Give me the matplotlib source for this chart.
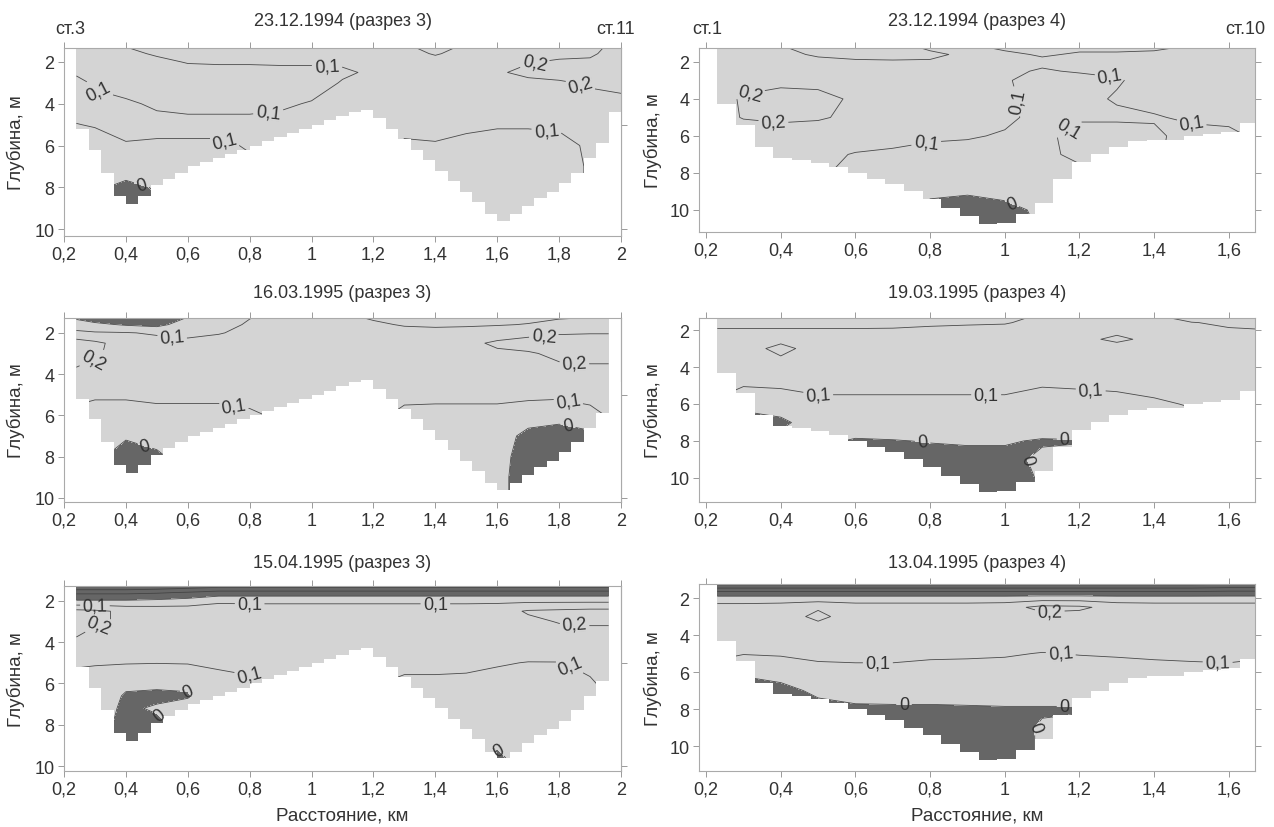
import numpy as np
import matplotlib.pyplot as plt
from matplotlib.ticker import MultipleLocator, FuncFormatter

plt.rcParams['font.family'] = ['Liberation Sans', 'DejaVu Sans']
plt.rcParams['contour.negative_linestyle'] = 'solid'

# distance nodes, km
x_r3 = [0.24, 0.3, 0.4, 0.5, 0.6, 0.7, 0.8, 0.9, 1.0, 1.1, 1.2, 1.3, 1.4, 1.5, 1.6, 1.7, 1.8, 1.9, 2.0]
x_r3b = [0.24, 0.3, 0.4, 0.5, 0.6, 0.7, 0.8, 0.9, 1.0, 1.1, 1.2, 1.3, 1.4, 1.5, 1.6, 1.7, 1.8, 1.9, 1.96]
x_r4 = [0.23, 0.3, 0.4, 0.5, 0.6, 0.7, 0.8, 0.9, 1.0, 1.1, 1.2, 1.3, 1.4, 1.5, 1.6, 1.67]
# depth nodes, m
z_r3 = [1.2, 1.6, 2, 2.5, 3, 4, 5, 6, 7, 8, 9, 10]
z_r3c = [1.2, 1.6, 2, 2.5, 3, 4, 5, 6, 6.6, 7.2, 8, 9, 10]
z_r4 = [1.2, 1.6, 2, 2.5, 3, 4, 5, 6, 7, 8, 9, 10, 11]

# bottom (left edges of steps, depth)
bot3_x = [0.24, 0.28, 0.32, 0.36, 0.40, 0.44, 0.48, 0.52, 0.56, 0.60, 0.64, 0.68, 0.72, 0.76,
          0.80, 0.84, 0.88, 0.92, 0.96, 1.00, 1.04, 1.08, 1.12, 1.16, 1.20, 1.24, 1.28, 1.32,
          1.36, 1.40, 1.44, 1.48, 1.52, 1.56, 1.60, 1.64, 1.68, 1.72, 1.76, 1.80, 1.84, 1.88,
          1.92, 1.96, 2.00]
bot3_z = [5.2, 6.2, 7.3, 8.4, 8.8, 8.4, 7.9, 7.6, 7.3, 7.0, 6.8, 6.6, 6.4, 6.2,
          6.0, 5.8, 5.6, 5.4, 5.2, 5.0, 4.8, 4.6, 4.4, 4.3, 4.7, 5.2, 5.7, 6.2,
          6.7, 7.2, 7.7, 8.2, 8.7, 9.3, 9.6, 9.3, 8.9, 8.5, 8.2, 7.8, 7.3, 6.6,
          5.9, 4.4]
bot4_x = [0.23, 0.28, 0.33, 0.38, 0.43, 0.48, 0.53, 0.58, 0.63, 0.68, 0.73, 0.78, 0.83, 0.88,
          0.93, 0.98, 1.03, 1.08, 1.13, 1.18, 1.23, 1.28, 1.33, 1.38, 1.43, 1.48, 1.53, 1.58,
          1.63, 1.67]
bot4_z = [4.3, 5.4, 6.6, 7.2, 7.3, 7.45, 7.7, 8.0, 8.3, 8.6, 9.0, 9.4, 9.9, 10.3,
          10.75, 10.7, 10.2, 9.6, 8.3, 7.4, 7.0, 6.6, 6.3, 6.2, 6.2, 6.0, 5.9, 5.8,
          5.3]

# values x100 (rows = depth nodes, columns = distance nodes)
v_231294_r3 = [
    [6, 7, 10.5, 13, 14, 14, 14, 14, 14, 14, 13, 10.5, 8, 10.5, 13, 15, 16, 18, 22],
    [6, 6, 8, 11, 12, 13, 13, 13, 13, 13, 13, 12, 9.5, 12, 15, 17, 18, 19, 23],
    [6, 6, 6, 8, 10.5, 11, 11, 11, 11, 11, 12, 13, 12, 14, 17, 19.5, 21, 21, 24],
    [8.5, 6, 6, 6, 7, 7, 7, 8, 8, 9, 11, 13, 13, 15, 19, 22, 23, 23, 24],
    [13, 8.5, 7, 6, 6, 6, 6, 6, 7, 10.5, 12, 14, 14, 15, 17, 18, 19, 21, 22],
    [13, 13, 11, 9, 8, 8, 8, 9, 10.5, 12, 13, 14, 14, 14, 15, 15, 15, 17, 18],
    [9.8, 10.5, 12, 12, 12, 12, 12, 12, 12, 12, 13, 12, 12, 11.5, 10.5, 10.5, 11, 12, 15],
    [7, 7, 9.5, 9, 9, 9, 10.5, 12, 12, 12, 13, 9, 9.5, 8, 8, 8, 8, 11, 13],
    [6, 6, 6, 7, 8, 8, 9, 12, 12, 12, 13, 8, 8, 7, 7, 7, 8, 10.5, 12],
    [5, 2, -3, 1, 7, 8, 9, 12, 12, 12, 13, 8, 8, 7, 7, 7, 8, 10.5, 12],
    [5, 1, -5, -2, 7, 8, 9, 12, 12, 12, 13, 8, 8, 7, 7, 7, 8, 10.5, 12],
    [5, 1, -5, -2, 7, 8, 9, 12, 12, 12, 13, 8, 8, 7, 7, 7, 8, 10.5, 12],
]
v_231294_r4 = [
    [13, 13, 10.5, 7, 7, 8, 11, 11, 9, 8, 9, 9, 9, 10.5, 12, 12],
    [13, 13, 12, 9, 8, 8.5, 9, 11, 11, 9.5, 10.5, 10.5, 11, 12, 13, 13],
    [13, 14, 14, 12, 11, 10.5, 10.5, 12, 12, 11, 12, 12, 12, 13, 14, 14],
    [14, 15, 16, 15, 14, 13, 13, 13, 11, 9.5, 10.5, 11, 13, 14, 14, 14],
    [15, 17, 18, 18, 17, 15, 15, 14, 10.5, 8, 8, 9.5, 12, 14, 14, 14],
    [17, 21, 23, 22, 19, 16, 15, 14, 11, 8, 8.5, 10.5, 12, 13, 13, 13],
    [17, 20.5, 22, 21, 18, 15, 14, 13, 11, 8.5, 9.5, 9, 9.5, 11, 11, 12],
    [16, 15, 15, 15, 14, 12, 11, 10.5, 9.5, 9, 11.5, 13, 11, 8, 9, 10.5],
    [12, 11, 12, 12, 9.5, 9, 8, 8, 7, 9, 11, 12, 11, 7, 8, 9],
    [8, 8, 10.5, 10.5, 9, 8, 6, 6, 5, 6, 9, 9.5, 10.5, 7, 8, 9],
    [5, 6, 8, 9, 8, 7, 2, 1, 3, 4, 6, 8, 8, 7, 8, 9],
    [3, 5, 6, 7, 6, 6, -3, -4, -3, 2, 4, 6, 7, 7, 8, 9],
    [3, 5, 6, 7, 6, 6, -5, -6, -5, 1, 2, 6, 7, 7, 8, 9],
]
v_160395_r3 = [
    [-3, -6, -8, -9, -0.5, 5, 9.5, 12, 12, 11, 9, 8, 7, 7, 8, 8, 9, 9.5, 10.5],
    [5, 2, -1, -3, 5, 7, 11, 13, 13, 13, 11, 9.5, 9, 9, 9.5, 10.3, 12, 13, 14],
    [12, 11, 10.5, 9, 8, 9.5, 12, 14, 14, 14, 13, 12, 12, 13, 14, 17, 19, 19.5, 19.5],
    [25, 22, 16, 13, 12, 13, 14, 15, 15, 15, 15, 14, 15, 17, 22, 24, 25, 25, 25],
    [22, 21, 17, 15, 14, 14, 14, 15, 15, 15, 15, 15, 15, 16, 18, 19, 22, 23, 23],
    [19, 17, 16, 16, 16, 16, 16, 16, 16, 16, 16, 16, 15, 15, 15, 16, 17, 17, 17],
    [12, 11, 11, 11.5, 11.5, 11.5, 12, 13, 14, 14, 14, 12, 12, 12, 12, 12, 12, 12, 13],
    [8, 7, 7, 8, 8, 8, 9, 11, 12, 12, 12, 8, 7.5, 7.5, 7.5, 5, 3, 8, 10.5],
    [6, 4, 1, 4, 6, 7, 9, 11, 12, 12, 12, 7, 7, 7, 5, -3, -4, -3, 5],
    [5, 2, -4, -2, 5, 7, 9, 11, 12, 12, 12, 6, 6, 6, 4, -5, -5, -5, 3],
    [5, 1, -5, -3, 5, 7, 9, 11, 12, 12, 12, 6, 6, 6, 3, -5, -5, -5, 3],
    [5, 1, -5, -3, 5, 7, 9, 11, 12, 12, 12, 6, 6, 6, 3, -5, -5, -5, 3],
]
v_190395_r4 = [
    [-2, -2, -1.5, -1, 1, 5, 7, 7, 8, 10.5, 11, 11, 10.5, 2, -1, -2],
    [6, 6, 6, 6, 6, 7, 8, 9, 9.5, 12, 12, 12, 11, 10.5, 8, 7],
    [11, 11, 11, 11, 11, 11, 12, 12, 12, 12, 12, 12, 12, 12, 11, 10.5],
    [12, 12, 12, 12, 12, 12, 12, 12, 12, 12, 12, 8.5, 12, 12, 12, 12],
    [13, 13, 8, 13, 13, 13, 13, 13, 13, 13, 13, 13, 13, 13, 13, 13],
    [13, 13, 13, 13, 13, 13, 13, 13, 13, 13, 13, 13, 13, 13, 13, 13],
    [12, 10.5, 11, 11.5, 11.5, 11.5, 11.5, 11.5, 12, 10.2, 10.5, 11, 12, 13, 13, 13],
    [9, 2, 5, 8.5, 8.5, 8.5, 8.5, 8.5, 8, 8, 8, 8, 9, 10.5, 11, 11],
    [7, -3, -2, 5, 6, 7, 7, 7, 7, 7, 7, 7, 8, 8, 9, 9],
    [6, 4, 3, 2, -1, -0.5, 0.5, 1, 1, -1, -0.5, 5, 8, 8, 9, 9],
    [6, 4, 3, 2, -3, -4, -4, -3, -3, 2, 3, 5, 8, 8, 9, 9],
    [6, 4, 3, 2, -3, -5, -5, -5, -4, 1, 3, 5, 8, 8, 9, 9],
    [6, 4, 3, 2, -3, -5, -5, -5, -4, 1, 3, 5, 8, 8, 9, 9],
]
v_150495_r3 = [
    [-35, -35, -35, -33, -30, -28, -28, -28, -28, -28, -28, -28, -28, -28, -28, -28, -28, -28, -28],
    [-12, -12, -12, -11, -9, -6, -6, -6, -6, -6, -6, -6, -6, -6, -6, -6, -6, -6, -6],
    [1, 1, 1, 2, 4, 8, 8, 8, 8, 8, 8, 8, 8, 8, 8, 8, 8, 8, 8],
    [23, 22, 18, 17, 16, 16, 15, 15, 15, 15, 15, 15, 15, 15, 16, 21, 22, 23, 23],
    [23, 21, 19, 17, 16, 16, 15, 15, 15, 15, 15, 15, 15, 15, 15, 18, 20.5, 21, 21],
    [19, 17, 16, 15, 15, 15, 15, 15, 15, 15, 15, 15, 15, 15, 14, 14, 15, 16, 16],
    [11, 10.5, 10.5, 10.2, 10.5, 11, 11.5, 12, 12, 12, 12, 12, 12, 11.5, 10.5, 9.8, 9.8, 11, 12],
    [7, 7, 2, 3, 2, 8, 9, 10.5, 11, 11, 10.5, 8.5, 8.5, 8.5, 8, 8, 8, 9.5, 11],
    [6.5, 6, -1, -3, -1, 7.5, 9, 10.5, 11, 11, 10.5, 8.5, 8.5, 8.5, 7.5, 7.5, 7.5, 9, 11],
    [6, 5, -2, 1.5, 4, 7, 9, 10.5, 11, 11, 10.5, 8, 8, 8, 7, 7, 7, 8, 10.5],
    [5, 4, -3, -3, 5, 7, 9, 10.5, 11, 11, 10.5, 8, 8, 8, 5, 6, 6, 7, 10.5],
    [5, 4, -3, -1, 5, 7, 9, 10.5, 11, 11, 10.5, 8, 8, 3, 0.5, 4, 5, 6, 10.5],
    [5, 4, -3, -1, 5, 7, 9, 10.5, 11, 11, 10.5, 8, 8, 3, -3, 3, 5, 6, 10.5],
]
v_130495_r4 = [
    [-35, -35, -35, -35, -35, -35, -35, -35, -35, -35, -35, -35, -35, -35, -33, -33],
    [-12, -12, -12, -12, -12, -12, -12, -12, -12, -12, -12, -12, -12, -12, -11, -11],
    [4, 4, 4, 4, 4, 4, 4, 4, 4, 5, 5, 4, 4, 4, 4, 4],
    [14, 14, 15, 19, 15, 15, 15, 15, 16, 23, 22, 16, 15, 15, 15, 15],
    [14, 14, 16, 22, 16, 15, 15, 15, 15, 17, 16, 15, 15, 15, 15, 15],
    [13, 13, 14, 14, 14, 14, 14, 14, 14, 13, 13, 14, 14, 14, 14, 14],
    [11, 10.5, 11, 11.5, 11.5, 11.5, 11, 10.8, 10.5, 9.8, 10.2, 10.5, 11, 11.5, 11.5, 11],
    [8, 1, 4, 8, 8.5, 8.5, 8, 8, 8, 8, 8, 8, 8, 8, 8.5, 8],
    [6, -3, -3, 2, 5, 6, 6, 6, 6, 6, 6, 6, 7, 7, 7, 7],
    [5, -4, -4, -3, -2, -2, -2, -1.5, -1, -1, -1, 4, 6, 6, 6, 6],
    [5, -4, -4, -4, -4, -4, -4, -4, -4, 1, 3, 4, 6, 6, 6, 6],
    [5, -4, -4, -4, -4, -4, -4, -4, -4, 1, 3, 4, 6, 6, 6, 6],
    [5, -4, -4, -4, -4, -4, -4, -4, -4, 1, 3, 4, 6, 6, 6, 6],
]

titles = ['23.12.1994 (разрез 3)', '23.12.1994 (разрез 4)',
          '16.03.1995 (разрез 3)', '19.03.1995 (разрез 4)',
          '15.04.1995 (разрез 3)', '13.04.1995 (разрез 4)']


def comma(v, pos=None):
    s = f"{v:.1f}"
    if s.endswith('.0'):
        s = s[:-2]
    return s.replace('.', ',')


def clab(v):
    return '0' if abs(v) < 1e-9 else comma(v)


W, H = 1274, 828
fig = plt.figure(figsize=(12.74, 8.28), dpi=100)

panels = [
    dict(x=x_r3, z=z_r3, v=v_231294_r3, sec=3, box=(64, 49, 621, 237), ylim=(10.33, 1.33), tpad=27,
         lab=[(1.05, 2.2), (0.31, 3.45), (0.86, 4.4), (0.72, 5.75), (1.76, 5.2),
              (1.72, 2.0), (1.87, 3.05), (0.45, 7.9)]),
    dict(x=x_r4, z=z_r4, v=v_231294_r4, sec=4, box=(699, 49, 1255, 233), ylim=(11.19, 1.25), tpad=27,
         lab=[(0.32, 3.95), (0.38, 5.3), (0.79, 6.45), (1.06, 4.05), (1.28, 2.95),
              (1.17, 5.6), (1.5, 5.35), (1.02, 9.6)]),
    dict(x=x_r3b, z=z_r3, v=v_160395_r3, sec=3, box=(64, 319, 621, 503), ylim=(10.2, 1.28), tpad=25,
         lab=[(0.55, 2.1), (0.3, 3.5), (0.75, 5.45), (1.75, 2.05), (1.85, 3.3),
              (1.83, 5.3), (0.46, 7.55), (1.83, 6.4)]),
    dict(x=x_r4, z=z_r4, v=v_190395_r4, sec=4, box=(699, 319, 1255, 503), ylim=(11.3, 1.35), tpad=25,
         lab=[(0.5, 5.5), (0.95, 5.5), (1.23, 5.25), (0.78, 8.05), (1.16, 7.95), (1.06, 9.0)]),
    dict(x=x_r3b, z=z_r3c, v=v_150495_r3, sec=3, box=(64, 587, 621, 772), ylim=(10.24, 1.28), tpad=24,
         lab=[(0.3, 2.2), (0.8, 2.15), (1.4, 2.15), (0.32, 3.6), (1.85, 3.15),
              (0.8, 5.4), (1.84, 5.0), (0.6, 6.3), (0.52, 7.35), (1.6, 9.3)]),
    dict(x=x_r4, z=z_r4, v=v_130495_r4, sec=4, box=(699, 585, 1255, 772), ylim=(11.35, 1.24), tpad=22,
         lab=[(1.12, 2.7), (0.66, 5.5), (1.15, 4.95), (1.57, 5.5), (0.73, 7.75),
              (1.16, 7.9), (1.07, 9.0)]),
]

txt_c = '#333333'
for i, p in enumerate(panels):
    l, t, r, b = p['box']
    ax = fig.add_axes([l / W, 1 - b / H, (r - l) / W, (b - t) / H])
    v = np.array(p['v']) / 100
    ax.contourf(p['x'], p['z'], v, levels=[-1, 0, 1], colors=['#666666', '#d4d4d4'])
    if v.min() < -0.1:
        ax.contour(p['x'], p['z'], v, levels=[-0.3, -0.2, -0.1], colors='#444444',
                   linewidths=0.6, linestyles='solid')
    cs = ax.contour(p['x'], p['z'], v, levels=[0, 0.1, 0.2], colors='#4a4a4a',
                    linewidths=0.6, linestyles='solid')
    if p['sec'] == 3:
        bx, bz = bot3_x, bot3_z
    else:
        bx, bz = bot4_x, bot4_z
    ax.fill_between(bx, bz + bz[-1:], 13, step='post', color='white', lw=0, zorder=3)
    texts = ax.clabel(cs, manual=p['lab'], fmt=clab, fontsize=13,
                      inline=True, inline_spacing=3, colors=txt_c)
    for tx in texts:
        tx.set_zorder(6)

    if p['sec'] == 3:
        ax.set_xlim(0.2, 2.0)
    else:
        ax.set_xlim(0.181, 1.67)
    ax.set_ylim(*p['ylim'])
    ax.xaxis.set_major_locator(MultipleLocator(0.2))
    ax.xaxis.set_major_formatter(FuncFormatter(comma))
    ax.set_yticks([2, 4, 6, 8, 10])
    ax.tick_params(direction='out', length=4, width=0.7, color='#9a9a9a', labelsize=13,
                   labelcolor=txt_c, top=True, pad=3)
    if p['sec'] == 3:
        sec = ax.secondary_yaxis('right')
        sec.set_yticks([5, 10])
        sec.tick_params(direction='out', length=4, width=0.7, color='#9a9a9a', labelright=False)
        sec.spines['right'].set_color('#aaaaaa')
    else:
        ax.tick_params(right=True)
    for s in ax.spines.values():
        s.set_color('#aaaaaa')
        s.set_linewidth(0.8)
        s.set_zorder(7)

    ax.annotate(titles[i], xy=(0.5, 1), xycoords='axes fraction', xytext=(0, p['tpad'] * 0.72),
                textcoords='offset points', ha='center', va='center', fontsize=13, color=txt_c)
    ax.set_ylabel('Глубина, м', fontsize=13.5, color=txt_c)
    ax.yaxis.set_label_coords(-0.07 if p['sec'] == 3 else -0.066, 0.5)
    if i >= 4:
        ax.set_xlabel('Расстояние, км', fontsize=13.5, color=txt_c)
        ax.xaxis.set_label_coords(0.5, -0.19)

    if i == 0:
        ax.annotate('ст.3', xy=(0, 1), xycoords='axes fraction', xytext=(-6.5, 13.7),
                    textcoords='offset points', ha='left', va='center', fontsize=13, color=txt_c)
        ax.annotate('ст.11', xy=(1, 1), xycoords='axes fraction', xytext=(10, 13.7),
                    textcoords='offset points', ha='right', va='center', fontsize=13, color=txt_c)
    if i == 1:
        ax.annotate('ст.1', xy=(0, 1), xycoords='axes fraction', xytext=(-5, 13.7),
                    textcoords='offset points', ha='left', va='center', fontsize=13, color=txt_c)
        ax.annotate('ст.10', xy=(1, 1), xycoords='axes fraction', xytext=(-21.6, 13.7),
                    textcoords='offset points', ha='left', va='center', fontsize=13, color=txt_c)

fig.savefig('out.png', dpi=100)
